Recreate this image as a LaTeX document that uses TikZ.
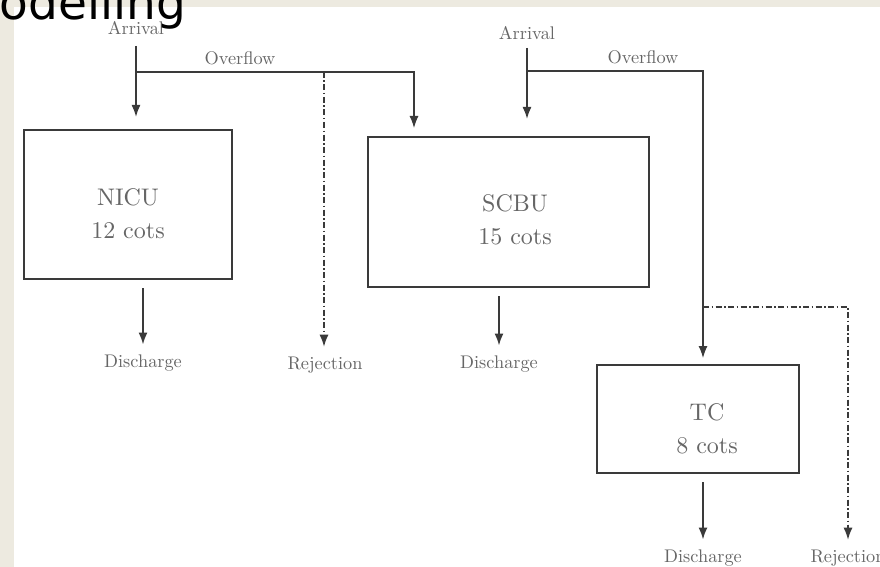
\documentclass[tikz,border=0pt]{standalone}
\usepackage{fontspec}
\setmainfont{lmroman10-regular}[Extension=.otf]
\newfontfamily\titlefont{DejaVu Sans}
\usetikzlibrary{arrows.meta}

\definecolor{slidebg}{HTML}{EDEAE0}
\definecolor{txtgray}{HTML}{666666}
\definecolor{linegray}{HTML}{3A3A3A}

\tikzset{
    unit/.style={draw=linegray, line width=2pt, inner sep=0pt},
    unittext/.style={text=txtgray, align=center, font=\fontsize{24}{33}\selectfont},
    lbl/.style={text=txtgray, font=\fontsize{18.3}{20}\selectfont, inner sep=1pt},
    flow/.style={draw=linegray, line width=1.8pt, -{Latex[length=12pt, width=9pt]}},
    overflow/.style={draw=linegray, line width=1.2pt, -{Latex[length=12pt, width=9pt]}},
    reject/.style={draw=linegray, line width=1.3pt, dash pattern=on 6pt off 2.5pt on 1.5pt off 2.5pt,
        -{Latex[length=12pt, width=9pt]}},
}

\begin{document}
\begin{tikzpicture}[x=1pt, y=-1pt]
    \useasboundingbox (0,0) rectangle (880,567);

    % Slide background
    \fill[slidebg] (0,0) rectangle (880,567);
    \fill[white] (14,7) rectangle (880,567);

    % The units
    \node[unit, minimum width=208pt, minimum height=149pt] (nicu) at (128,204.5) {};
    \node[unit, minimum width=281pt, minimum height=150pt] (scbu) at (508.5,212) {};
    \node[unit, minimum width=202pt, minimum height=108pt] (tc) at (698,419) {};
    \node[unittext] (nicutxt) at (128,214) {NICU\\12 cots};
    \node[unittext] (scbutxt) at (515,220) {SCBU\\15 cots};
    \node[unittext] (tctxt) at (707,428.5) {TC\\8 cots};

    % Arrivals
    \node[lbl] (arrL) at (136,28) {Arrival};
    \node[lbl] (arrR) at (527,33) {Arrival};
    \draw[flow, shorten >=12pt] ([yshift=-10pt]arrL.south) -- (arrL.south |- nicu.north);
    \draw[flow, shorten >=17pt] ([yshift=-7pt]arrR.south) -- (arrR.south |- scbu.north);

    % Overflows
    \coordinate (jL) at (136,72);
    \coordinate (jR) at (527,71);
    \coordinate (scbuin) at (414,137);
    \coordinate (tcin) at (703,365);
    \draw[overflow, shorten >=9pt] (jL) -| (scbuin);
    \draw[overflow, shorten >=7pt] (jR) -| (tcin);
    \node[lbl] (ovfL) at (240,58) {Overflow};
    \node[lbl] (ovfR) at (643,57) {Overflow};

    % Rejections
    \coordinate (rjL) at (324,72);
    \coordinate (rjR) at (703,307);
    \node[lbl] (rejL) at (325,365) {Rejection};
    \node[lbl] (rejR) at (848,558) {Rejection};
    \draw[reject, shorten >=9pt] (rjL) -- (rjL |- rejL.north);
    \draw[reject, shorten >=9pt] (rjR) -| (rejR.north);

    % Discharges
    \foreach \u/\x/\y in {nicu/143/363, scbu/499/364, tc/703/558} {
        \node[lbl] (dis\u) at (\x,\y) {Discharge};
        \draw[flow, shorten >=9pt] ([yshift=-8pt]\u.south -| dis\u.north) -- (dis\u.north);
    }

    % Slide title
    \node[anchor=base east, inner sep=0pt, font=\titlefont\fontsize{47}{50}\selectfont] (title) at (186,20) {odelling};
\end{tikzpicture}
\end{document}
